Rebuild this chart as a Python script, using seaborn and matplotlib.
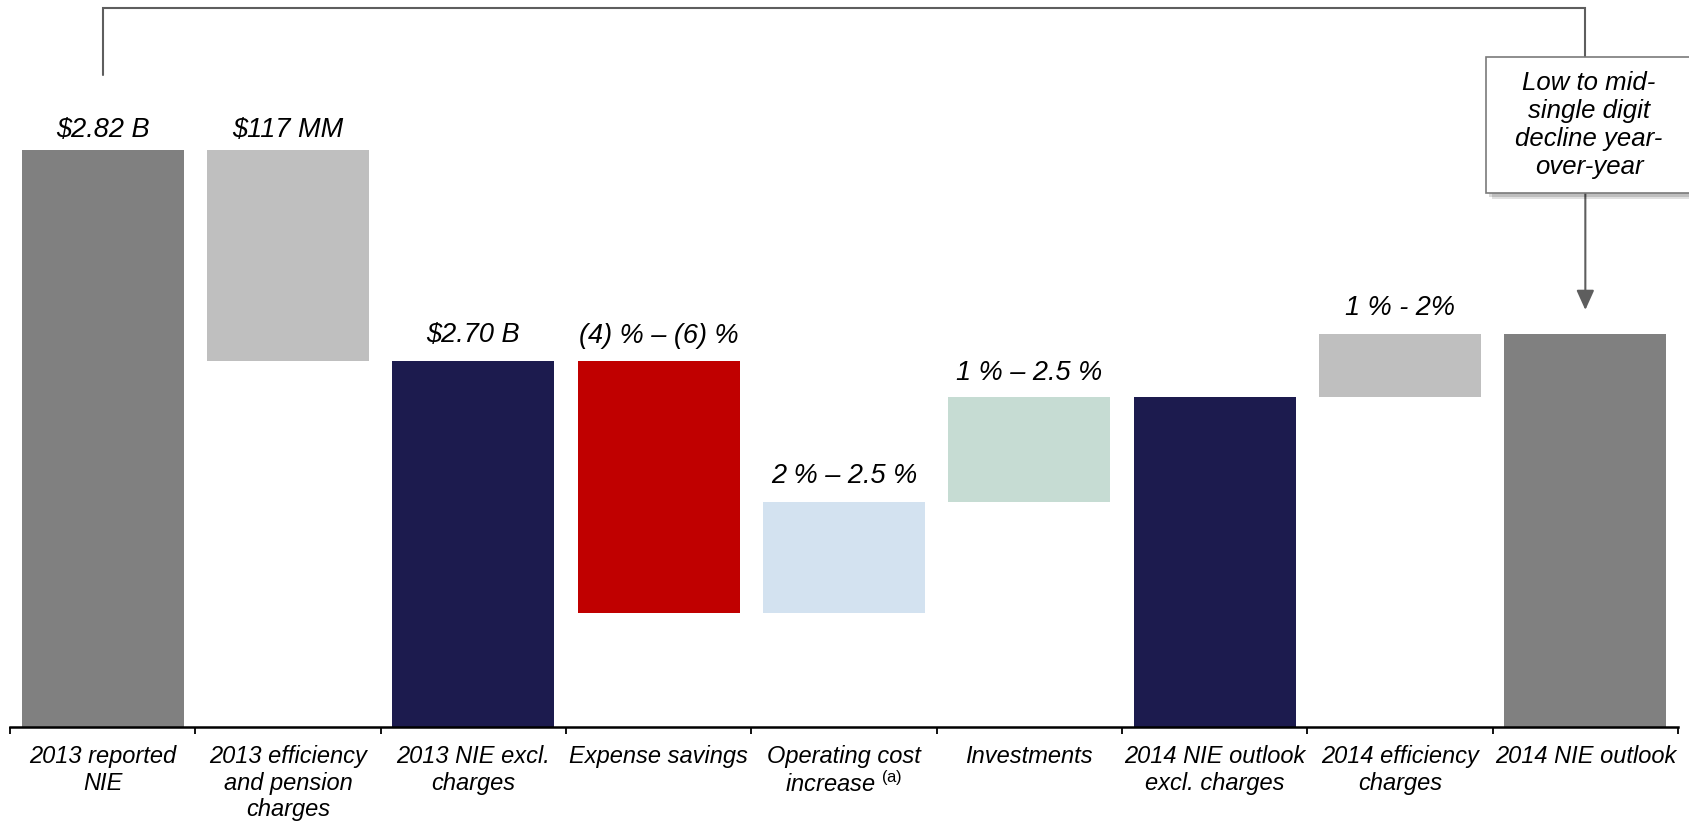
import numpy as np
import pandas as pd
import matplotlib
matplotlib.use("Agg")
import matplotlib.pyplot as plt
import matplotlib.patheffects as pe
from matplotlib.patches import Rectangle
import seaborn as sns

# ---- data ($ billions) ----
categories = [
    "2013 reported\nNIE",
    "2013 efficiency\nand pension\ncharges",
    "2013 NIE excl.\ncharges",
    "Expense savings",
    "Operating cost\nincrease $^{\\rm (a)}$",
    "Investments",
    "2014 NIE outlook\nexcl. charges",
    "2014 efficiency\ncharges",
    "2014 NIE outlook",
]
# "total" bars show the running level, "step" bars float between levels
kinds = ["total", "step", "total", "step", "step", "step", "total", "step", "total"]
amounts = [2.82, -0.117, 0.0, -0.140, 0.062, 0.058, 0.0, 0.035, 0.0]
value_labels = ["$2.82 B", "$117 MM", "$2.70 B", "(4) % \u2013 (6) %",
                "2 % \u2013 2.5 %", "1 % \u2013 2.5 %", "", "1 % - 2%", ""]
bar_colors = ["#808080", "#BFBFBF", "#1C1B4E", "#C00000", "#D3E2F0",
              "#C6DCD3", "#1C1B4E", "#BFBFBF", "#808080"]
callout_text = "Low to mid-\nsingle digit\ndecline year-\nover-year"
axis_floor = 2.50

# ---- waterfall geometry from the steps ----
level = 0.0
lows, highs = [], []
for kind, amt in zip(kinds, amounts):
    if kind == "total":
        level = level + amt
        lows.append(0.0)
        highs.append(level)
    else:
        lows.append(min(level, level + amt))
        highs.append(max(level, level + amt))
        level = level + amt
df = pd.DataFrame({"category": categories, "low": lows, "high": highs})
df["height"] = df["high"] - df["low"]

# ---- figure ----
sns.set_theme(style="white")
plt.rcParams["font.family"] = ["Liberation Sans", "DejaVu Sans"]
plt.rcParams["mathtext.fontset"] = "custom"
plt.rcParams["mathtext.rm"] = "Liberation Sans"
plt.rcParams["mathtext.it"] = "Liberation Sans:italic"

fig = plt.figure(figsize=(16.9, 8.24), dpi=100)
W, H = 1690, 824
axis_px = 727
ax = fig.add_axes([10 / W, (H - axis_px) / H, 1668 / W, axis_px / H])

sns.barplot(data=df, x="category", y="height", order=categories,
            bottom=df["low"].to_numpy(), errorbar=None, width=0.874,
            color=bar_colors[0], saturation=1, linewidth=0, ax=ax)
for patch, col in zip(ax.patches, bar_colors):
    patch.set_facecolor(col)
    patch.set_edgecolor(col)

px_per_unit = 1803.0
ax.set_ylim(axis_floor, axis_floor + axis_px / px_per_unit)
ax.set_xlim(-0.5, len(categories) - 0.5)

# value labels
label_gap_pt = [9.5, 9.5, 13.5, 13.0, 13.5, 12.5, 0, 14.0, 0]
for i, (txt, hi) in enumerate(zip(value_labels, df["high"])):
    if txt:
        ax.annotate(txt, xy=(i, hi), xytext=(0, label_gap_pt[i]),
                    textcoords="offset points", ha="center", va="baseline",
                    fontsize=19.5, fontstyle="italic", color="black")

# axes styling
for side in ["left", "top", "right"]:
    ax.spines[side].set_visible(False)
ax.spines["bottom"].set_color("black")
ax.spines["bottom"].set_linewidth(1.8)
ax.set_yticks([])
ax.set_ylabel("")
ax.set_xlabel("")
ax.set_xticks(np.arange(-0.5, len(categories), 1.0))
ax.set_xticklabels([])
ax.set_xticks(np.arange(len(categories)), minor=True)
ax.set_xticklabels(categories, minor=True, fontsize=17, fontstyle="italic",
                   linespacing=1.2)
ax.tick_params(axis="x", which="major", direction="out", length=5,
               width=1.3, color="black", bottom=True)
ax.tick_params(axis="x", which="minor", length=0, pad=13, labelcolor="black")

# bracket from reported NIE to the outlook with a callout box
line_col = "#5E5E5E"
trans = ax.get_xaxis_transform()
y_top = (axis_px - 8) / axis_px
y_left_end = (axis_px - 75) / axis_px
box_top = (axis_px - 57) / axis_px
box_bot = (axis_px - 193) / axis_px
last = len(categories) - 1
ax.plot([0, 0, last, last], [y_left_end, y_top, y_top, box_top],
        transform=trans, color=line_col, lw=1.5, clip_on=False,
        solid_joinstyle="miter")
box = Rectangle((last - 0.534, box_bot), 1.1, box_top - box_bot,
                transform=trans, facecolor="white", edgecolor="#7A7A7A",
                lw=1.2, clip_on=False, zorder=5,
                path_effects=[pe.SimplePatchShadow(offset=(4, -4), shadow_rgbFace="#000000", alpha=0.12),
                              pe.SimplePatchShadow(offset=(2, -3), shadow_rgbFace="#000000", alpha=0.15),
                              pe.Normal()])
ax.add_patch(box)
ax.text(last + 0.02, (box_top + box_bot) / 2, callout_text, transform=trans,
        ha="center", va="center", fontsize=18.5, fontstyle="italic",
        linespacing=1.2, zorder=6, color="black")
tip_y = df["high"].iloc[-1] + 24 / px_per_unit
ax.annotate("", xy=(last, tip_y), xycoords="data",
            xytext=(last, box_bot), textcoords=trans,
            arrowprops=dict(arrowstyle="-|>,head_length=1.0,head_width=0.45",
                            mutation_scale=12, color=line_col, lw=1.5,
                            shrinkA=0, shrinkB=0))

fig.savefig("out.png", dpi=100)
